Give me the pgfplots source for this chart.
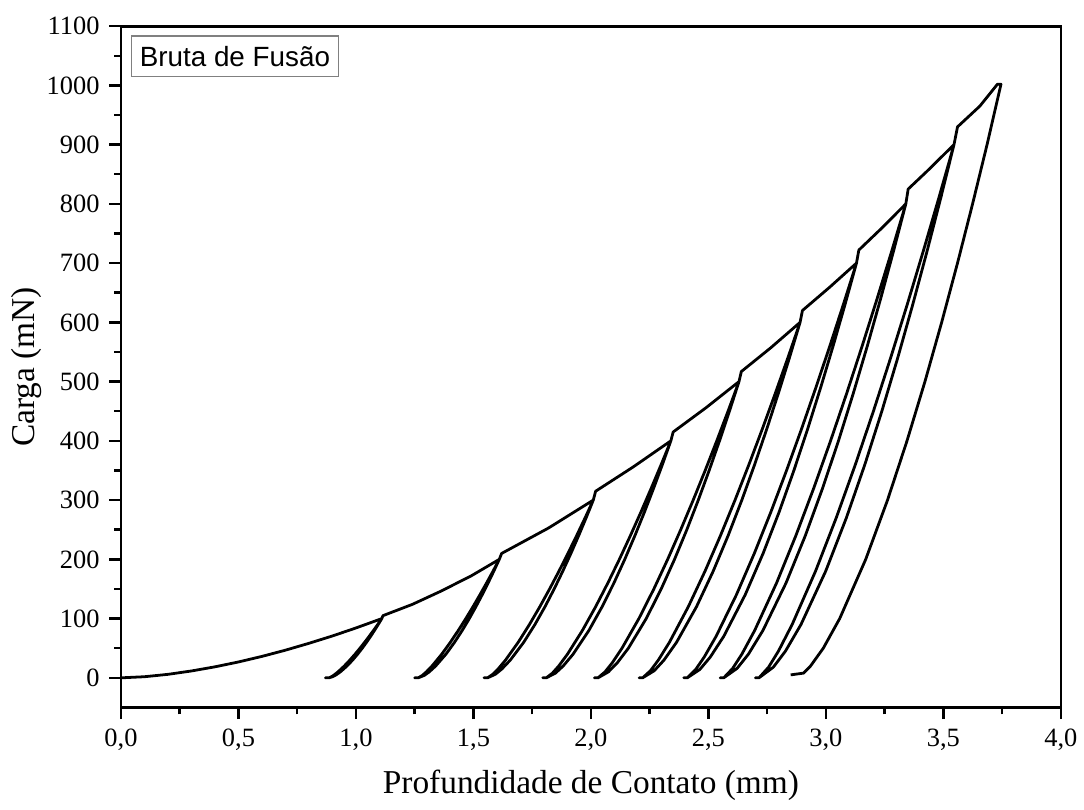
\documentclass[border=0pt]{standalone}
\usepackage{fontspec}
\setmainfont{Liberation Serif}
\newfontfamily\arialfont{Liberation Sans}
\usepackage{pgfplots}
\pgfplotsset{compat=1.18}
\begin{document}
\begin{tikzpicture}
\begin{axis}[
  scale only axis, width=338pt, height=245pt,
  xmin=0, xmax=4, ymin=-50, ymax=1100,
  xtick={0,0.5,...,4}, ytick={0,100,...,1100},
  minor x tick num=1, minor y tick num=1,
  tick align=outside, xtick pos=left, ytick pos=left,
  major tick length=4.2pt, minor tick length=2.5pt,
  axis line style={line width=1pt},
  every tick/.style={black, line width=0.9pt},
  /pgf/number format/assume math mode=true,
  xticklabel style={/pgf/number format/fixed, /pgf/number format/fixed zerofill, /pgf/number format/precision=1, /pgf/number format/use comma},
  yticklabel style={/pgf/number format/fixed, /pgf/number format/precision=0, /pgf/number format/1000 sep={}},
  tick label style={font=\fontsize{9.5}{11}\selectfont},
  xlabel={Profundidade de Contato (mm)}, ylabel={Carga (mN)},
  label style={font=\fontsize{12}{14}\selectfont},
  xlabel style={at={(axis description cs:0.5,-0.114)}, anchor=center},
  ylabel style={at={(axis description cs:-0.1,0.5)}, anchor=center},
]
\addplot[black, line width=1.0pt, line join=round, mark=none] coordinates {
(0,0)(0.1,1.9)(0.2,5.9)(0.3,11.6)(0.4,18.6)(0.5,26.8)(0.6,36.2)(0.7,46.7)(0.8,58.3)(0.9,70.7)(1.0,84.2)(1.11,100)
(1.0947,90)(1.0789,80)(1.0624,70)(1.0451,60)(1.0268,50)(1.0072,40)(0.9858,30)(0.9620,20)(0.9335,10)(0.9155,5)(0.9016,2)(0.885,0)(0.870,0)
(0.885,0)(0.8961,2)(0.9075,5)(0.9233,10)(0.9503,20)(0.9741,30)(0.9962,40)(1.0170,50)(1.0369,60)(1.0560,70)(1.0745,80)(1.0925,90)(1.110,100)(1.115,105)
(1.24,124)(1.36,146)(1.49,172)(1.61,200)
(1.5866,180)(1.5623,160)(1.5370,140)(1.5104,120)(1.4824,100)(1.4523,80)(1.4196,60)(1.3830,40)(1.3393,20)(1.3118,10)(1.2904,4)(1.265,0)(1.25,0)
(1.265,0)(1.2820,4)(1.2994,10)(1.3237,20)(1.3651,40)(1.4017,60)(1.4355,80)(1.4674,100)(1.4979,120)(1.5272,140)(1.5556,160)(1.5832,180)(1.61,200)(1.62,210)
(1.82,253)(2.01,300)
(1.9795,270)(1.9478,240)(1.9148,210)(1.8801,180)(1.8435,150)(1.8043,120)(1.7616,90)(1.7139,60)(1.6569,30)(1.6211,15)(1.5932,6)(1.56,0)(1.545,0)
(1.56,0)(1.5822,6)(1.6049,15)(1.6365,30)(1.6905,60)(1.7382,90)(1.7824,120)(1.8240,150)(1.8638,180)(1.9020,210)(1.9390,240)(1.9750,270)(2.01,300)(2.02,315)
(2.18,356)(2.34,400)
(2.3041,360)(2.2668,320)(2.2279,280)(2.1870,240)(2.1439,200)(2.0977,160)(2.0475,120)(1.9913,80)(1.9242,40)(1.8819,20)(1.8491,8)(1.81,0)(1.795,0)
(1.81,0)(1.8361,8)(1.8629,20)(1.9002,40)(1.9637,80)(2.0199,120)(2.0719,160)(2.1210,200)(2.1678,240)(2.2129,280)(2.2564,320)(2.2988,360)(2.34,400)(2.35,415)
(2.49,456)(2.63,500)
(2.5893,450)(2.5471,400)(2.5030,350)(2.4568,300)(2.4080,250)(2.3557,200)(2.2989,150)(2.2352,100)(2.1592,50)(2.1114,25)(2.0742,10)(2.03,0)(2.015,0)
(2.03,0)(2.0596,10)(2.0899,25)(2.1321,50)(2.2040,100)(2.2677,150)(2.3265,200)(2.3820,250)(2.4351,300)(2.4861,350)(2.5354,400)(2.5833,450)(2.63,500)(2.64,517)
(2.765,557)(2.89,600)
(2.8446,540)(2.7974,480)(2.7482,420)(2.6966,360)(2.6421,300)(2.5837,240)(2.5202,180)(2.4491,120)(2.3643,60)(2.3109,30)(2.2694,12)(2.22,0)(2.205,0)
(2.22,0)(2.2530,12)(2.2869,30)(2.3340,60)(2.4143,120)(2.4854,180)(2.5511,240)(2.6131,300)(2.6723,360)(2.7293,420)(2.7843,480)(2.8379,540)(2.89,600)(2.90,620)
(3.015,659)(3.13,700)
(3.0812,630)(3.0305,560)(2.9776,490)(2.9222,420)(2.8636,350)(2.8009,280)(2.7326,210)(2.6562,140)(2.5651,70)(2.5077,35)(2.4631,14)(2.41,0)(2.395,0)
(2.41,0)(2.4455,14)(2.4819,35)(2.5325,70)(2.6188,140)(2.6952,210)(2.7658,280)(2.8324,350)(2.8961,420)(2.9573,490)(3.0165,560)(3.0740,630)(3.13,700)(3.14,722)
(3.24,760)(3.34,800)
(3.2875,720)(3.2329,640)(3.1760,560)(3.1163,480)(3.0533,400)(2.9857,320)(2.9123,240)(2.8301,160)(2.7319,80)(2.6702,40)(2.6221,16)(2.565,0)(2.55,0)
(2.565,0)(2.6032,16)(2.6423,40)(2.6968,80)(2.7898,160)(2.8720,240)(2.9480,320)(3.0197,400)(3.0882,480)(3.1541,560)(3.2178,640)(3.2797,720)(3.34,800)(3.35,825)
(3.43,855)(3.545,900)
(3.4887,810)(3.4303,720)(3.3694,630)(3.3055,540)(3.2379,450)(3.1656,360)(3.0869,270)(2.9989,180)(2.8938,90)(2.8276,45)(2.7762,18)(2.715,0)(2.70,0)
(2.715,0)(2.7559,18)(2.7978,45)(2.8562,90)(2.9557,180)(3.0438,270)(3.1252,360)(3.2020,450)(3.2753,540)(3.3459,630)(3.4141,720)(3.4804,810)(3.545,900)(3.56,930)
(3.655,965)(3.73,1002)(3.745,1002)
(3.6857,900)(3.6241,800)(3.5599,700)(3.4925,600)(3.4213,500)(3.3450,400)(3.2621,300)(3.1693,200)(3.0585,100)(2.9887,50)(2.9345,20)(2.905,8)(2.85,5)
};
\node[draw=gray, line width=0.5pt, anchor=north west, minimum width=74.5pt, minimum height=14.7pt, inner sep=0pt, font=\arialfont\fontsize{10}{12}\selectfont] at (axis description cs:0.0103,0.9868) {Bruta de Fusão};
\end{axis}
\pgfresetboundingbox
\path[use as bounding box] (-43.5pt,-36.7pt) rectangle (346.3pt,254.4pt);
\end{tikzpicture}
\end{document}
